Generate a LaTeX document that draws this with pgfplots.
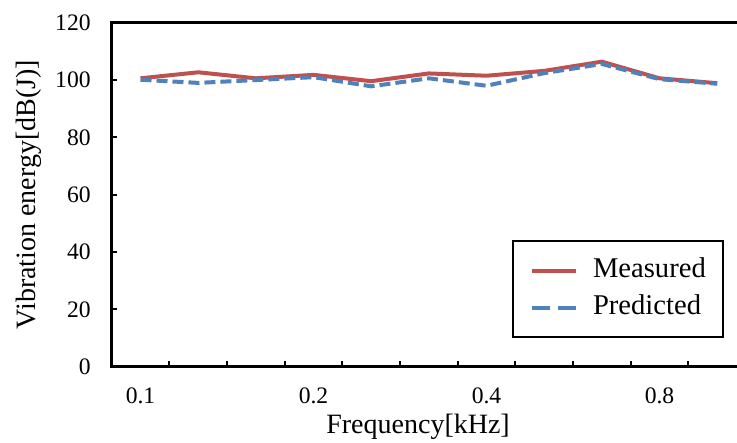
\documentclass[border=0pt]{standalone}
\usepackage{fontspec}
\setmainfont{Liberation Serif}
\usepackage{pgfplots}
\pgfplotsset{compat=1.18}
\definecolor{mred}{HTML}{C0504D}
\definecolor{mblue}{HTML}{4F81BD}
\begin{document}
\begin{tikzpicture}
\begin{axis}[
  scale only axis,
  width=317.15pt, height=172pt,
  at={(55.85pt,38.15pt)}, anchor=south west,
  xmin=-0.5, xmax=10.5, ymin=0, ymax=120,
  axis line style={line width=1.7pt, black},
  tick align=inside, tick pos=left,
  major tick length=2.8pt,
  every tick/.style={black, line width=1pt},
  xtick={0.5,1.5,...,9.5}, xticklabel=\empty,
  extra x ticks={0,3,6,9},
  extra x tick labels={0.1,0.2,0.4,0.8},
  extra x tick style={major tick length=0pt},
  ytick={0,20,...,120},
  /pgf/number format/assume math mode=true,
  tick label style={font=\fontsize{11.8}{13}\selectfont},
  xticklabel style={yshift=-7.2pt},
  yticklabel style={xshift=-7pt},
  xlabel={Frequency[kHz]},
  ylabel={Vibration energy[dB(J)]},
  every axis x label/.style={at={(axis description cs:0.483,-0.1956)}, anchor=base, font=\fontsize{14}{16}\selectfont},
  every axis y label/.style={at={(axis description cs:-0.1304,0.5)}, rotate=90, anchor=center, font=\fontsize{14}{16}\selectfont},
  legend style={at={(0.9653,0.0826)}, anchor=south east, draw=black, line width=1.2pt,
    font=\fontsize{14.3}{16}\selectfont, inner xsep=8.5pt, inner ysep=8.2pt,
    nodes={inner sep=0pt, text height=10pt, text depth=3pt},
    row sep=5.5pt, /tikz/column 1/.style={column sep=7.5pt}},
  legend cell align=left,
]
\addplot[mred, line width=2pt, line join=round,
  legend image code/.code={\draw[mred, line width=2pt] (0pt,0pt) -- (22pt,0pt);}]
  coordinates {(0,100.6) (1,102.7) (2,100.6) (3,101.8) (4,99.6) (5,102.3) (6,101.5) (7,103.2) (8,106.4) (9,100.6) (10,98.9)};
\addlegendentry{Measured}
\addplot[mblue, line width=2pt, line join=round, dash pattern=on 5.5pt off 2.5pt,
  legend image code/.code={\draw[mblue, line width=2pt, dash pattern=on 9pt off 4pt] (0pt,0pt) -- (22pt,0pt);}]
  coordinates {(0,100.1) (1,99.0) (2,100.0) (3,101.0) (4,97.8) (5,100.6) (6,98.0) (7,102.4) (8,105.6) (9,100.3) (10,98.7)};
\addlegendentry{Predicted}
\end{axis}
\pgfresetboundingbox
\useasboundingbox (0,0) rectangle (368.5pt,221.5pt);
\end{tikzpicture}
\end{document}
